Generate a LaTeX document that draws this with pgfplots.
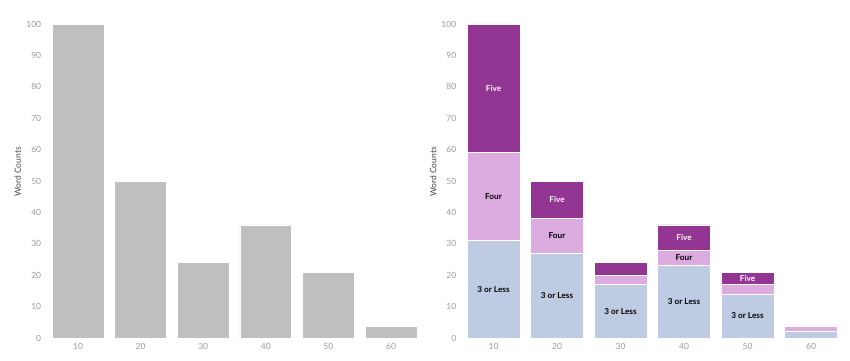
\documentclass[border=0pt]{standalone}
\usepackage{fontspec}
\setmainfont{Lato}
\usepackage{pgfplots}
\pgfplotsset{compat=1.18}
\usepackage{pgfplotstable}
\definecolor{barGray}{RGB}{191,191,191}
\definecolor{cLess}{RGB}{190,203,226}
\definecolor{cFour}{RGB}{220,172,224}
\definecolor{cFive}{RGB}{147,54,147}
\definecolor{tickGray}{RGB}{155,155,155}
\definecolor{labGray}{RGB}{70,70,70}

\pgfplotstableread{
x y
1 100
2 50
3 24
4 36
5 21
6 3.8
}\totals
\pgfplotstableread{
x y
1 31
2 27
3 17
4 23
5 14
6 2
}\less
\pgfplotstableread{
x y
1 28
2 11
3 3
4 5
5 3
6 1.8
}\four
\pgfplotstableread{
x y
1 41
2 12
3 4
4 8
5 4
}\five
\pgfplotstableread{
x y lab
1 79.5 Five
2 44 Five
4 32 Five
5 19 Five
}\fivelab
\pgfplotstableread{
x y lab
1 45 Four
2 32.5 Four
4 25.5 Four
}\fourlab
\pgfplotstableread{
x y lab
1 15.5 {3 or Less}
2 13.5 {3 or Less}
3 8.5 {3 or Less}
4 11.5 {3 or Less}
5 7 {3 or Less}
}\lesslab

\pgfplotsset{
  base/.style={
    scale only axis, height=314pt,
    ymin=0, ymax=100, xmin=0.5, xmax=6.5,
    ytick={0,10,...,100}, xtick={1,...,6},
    xticklabels={10,20,30,40,50,60},
    axis line style={draw=none},
    major tick length=0pt,
    tick label style={font=\fontsize{8.5}{10}\selectfont, text=tickGray},
    /pgf/number format/assume math mode=true,
    yticklabel style={xshift=-2pt},
    xticklabel style={yshift=-2pt},
    clip=false,
  },
  seglab/.style={draw=none, mark=none, nodes near coords, point meta=explicit symbolic,
    nodes near coords align={center},
    every node near coord/.append style={font=\bfseries\fontsize{8.2}{10}\selectfont, text=#1, inner sep=0pt}},
}

\begin{document}
\begin{tikzpicture}
\useasboundingbox (0,0) rectangle (850pt,360pt);

% left chart
\begin{axis}[base, width=375.6pt, at={(46.7pt,22pt)}, anchor=south west,
  ylabel={Word Counts},
  every axis y label/.style={at={(axis description cs:-0.077,0.529)}, rotate=90, anchor=center, font=\fontsize{8.5}{10}\selectfont, text=labGray},
  ybar, bar width=0.83, bar shift=0pt]
\addplot[fill=barGray, draw=white, line width=0.6pt] table[x=x,y=y]{\totals};
\end{axis}

% right chart
\begin{axis}[base, width=381pt, at={(461.8pt,22pt)}, anchor=south west,
  ylabel={Word Counts},
  every axis y label/.style={at={(axis description cs:-0.075,0.529)}, rotate=90, anchor=center, font=\fontsize{8.5}{10}\selectfont, text=labGray},
  ybar stacked, bar width=0.835]
\addplot[fill=cLess, draw=white, line width=0.6pt] table[x=x,y=y]{\less};
\addplot[fill=cFour, draw=white, line width=0.6pt] table[x=x,y=y]{\four};
\addplot[fill=cFive, draw=white, line width=0.6pt] table[x=x,y=y]{\five};
\end{axis}

% right chart segment labels
\begin{axis}[base, width=381pt, at={(461.8pt,22pt)}, anchor=south west,
  hide axis]
\addplot[seglab=white] table[x=x,y=y,meta=lab]{\fivelab};
\addplot[seglab=black] table[x=x,y=y,meta=lab]{\fourlab};
\addplot[seglab=black] table[x=x,y=y,meta=lab]{\lesslab};
\end{axis}
\end{tikzpicture}
\end{document}
